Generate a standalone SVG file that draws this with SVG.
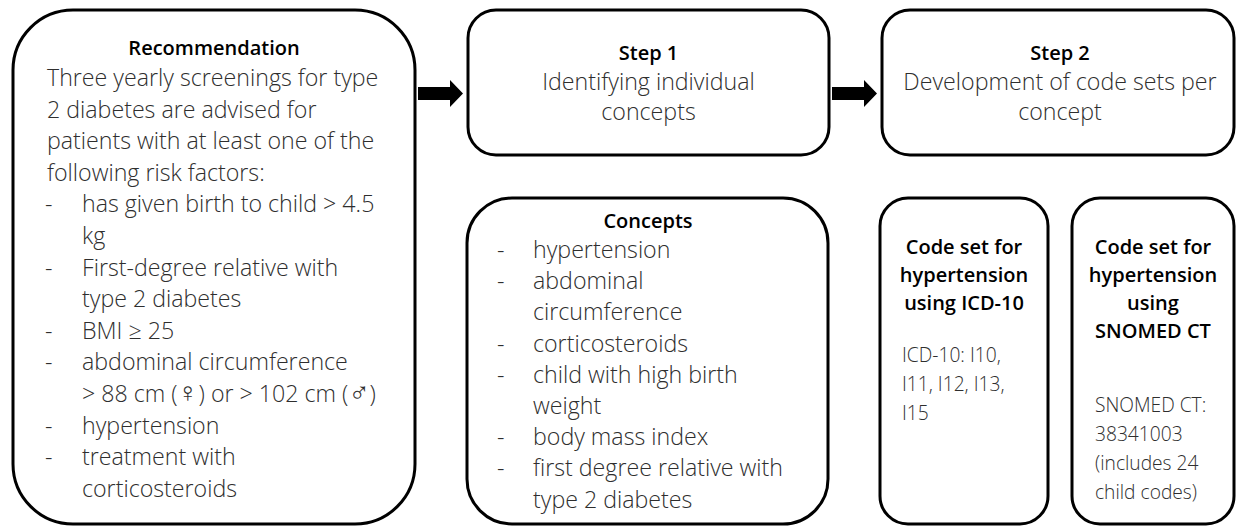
<svg xmlns="http://www.w3.org/2000/svg" width="1236" height="526" viewBox="0 0 1236 526">
<style>
.box{fill:#fff;stroke:#000;stroke-width:3}
.b{font-family:"Open Sans","Liberation Sans",sans-serif;font-weight:600;fill:#000}
.t{font-family:"Open Sans","Liberation Sans",sans-serif;font-weight:300;fill:#2e2e2e}
.big{font-size:23.2px}
.mid{font-size:20px}
.sm{font-size:19.2px}
.c{text-anchor:middle}
.sym{font-family:"DejaVu Sans",sans-serif;font-size:28px;font-weight:200}
</style>
<rect width="1236" height="526" fill="#fff"/>
<g id="connectors">
<path d="M418 87 H450 V80 L463 93.5 L450 107 V100 H418 Z" fill="#000"/>
<path d="M832 87 H864 V80 L877 93.5 L864 107 V100 H832 Z" fill="#000"/>
</g>
<g id="recommendation">
<rect class="box" x="13" y="10" width="402" height="514" rx="60" ry="60"/>
<text class="b mid c" x="214" y="55">Recommendation</text>
<text class="t big" x="47" y="86">Three yearly screenings for type</text>
<text class="t big" x="47" y="117.6">2 diabetes are advised for</text>
<text class="t big" x="47" y="149.2">patients with at least one of the</text>
<text class="t big" x="47" y="180.8">following risk factors:</text>
<text class="t big" x="45" y="212.4">-</text><text class="t big" x="82" y="212.4">has given birth to child &gt; 4.5</text>
<text class="t big" x="82" y="244">kg</text>
<text class="t big" x="45" y="275.6">-</text><text class="t big" x="82" y="275.6">First-degree relative with</text>
<text class="t big" x="82" y="307.2">type 2 diabetes</text>
<text class="t big" x="45" y="338.8">-</text><text class="t big" x="82" y="338.8">BMI ≥ 25</text>
<text class="t big" x="45" y="370.4">-</text><text class="t big" x="82" y="370.4">abdominal circumference</text>
<text class="t big" x="82" y="402">&gt; 88 cm (<tspan class="sym">♀</tspan>) or &gt; 102 cm (<tspan class="sym">♂</tspan>)</text>
<text class="t big" x="45" y="433.6">-</text><text class="t big" x="82" y="433.6">hypertension</text>
<text class="t big" x="45" y="465.2">-</text><text class="t big" x="82" y="465.2">treatment with</text>
<text class="t big" x="82" y="496.8">corticosteroids</text>
</g>
<g id="step1">
<rect class="box" x="468" y="10" width="361" height="145" rx="28" ry="28"/>
<text class="b mid c" x="648.5" y="60">Step 1</text>
<text class="t big c" x="648.5" y="90">Identifying individual</text>
<text class="t big c" x="648.5" y="120">concepts</text>
</g>
<g id="step2">
<rect class="box" x="882" y="10" width="352" height="145" rx="28" ry="28"/>
<text class="b mid c" x="1060" y="60">Step 2</text>
<text class="t big c" x="1060" y="90">Development of code sets per</text>
<text class="t big c" x="1060" y="120">concept</text>
</g>
<g id="concepts">
<rect class="box" x="467" y="198" width="361" height="326" rx="45" ry="45"/>
<text class="b mid c" x="648" y="228">Concepts</text>
<text class="t big" x="497" y="258">-</text><text class="t big" x="533" y="258">hypertension</text>
<text class="t big" x="497" y="289">-</text><text class="t big" x="533" y="289">abdominal</text>
<text class="t big" x="533" y="320">circumference</text>
<text class="t big" x="497" y="352">-</text><text class="t big" x="533" y="352">corticosteroids</text>
<text class="t big" x="497" y="383">-</text><text class="t big" x="533" y="383">child with high birth</text>
<text class="t big" x="533" y="414">weight</text>
<text class="t big" x="497" y="445">-</text><text class="t big" x="533" y="445">body mass index</text>
<text class="t big" x="497" y="476">-</text><text class="t big" x="533" y="476">first degree relative with</text>
<text class="t big" x="533" y="508">type 2 diabetes</text>
</g>
<g id="icd10">
<rect class="box" x="880" y="198" width="168" height="326" rx="28" ry="28"/>
<text class="b mid c" x="964" y="254">Code set for</text>
<text class="b mid c" x="964" y="282">hypertension</text>
<text class="b mid c" x="964" y="310">using ICD-10</text>
<text class="t sm" x="902" y="362">ICD-10: I10,</text>
<text class="t sm" x="902" y="391">I11, I12, I13,</text>
<text class="t sm" x="902" y="420">I15</text>
</g>
<g id="snomed">
<rect class="box" x="1072" y="198" width="162" height="326" rx="28" ry="28"/>
<text class="b mid c" x="1153" y="254">Code set for</text>
<text class="b mid c" x="1153" y="282">hypertension</text>
<text class="b mid c" x="1153" y="310">using</text>
<text class="b mid c" x="1153" y="338">SNOMED CT</text>
<text class="t sm" x="1095" y="412">SNOMED CT:</text>
<text class="t sm" x="1095" y="441">38341003</text>
<text class="t sm" x="1095" y="470">(includes 24</text>
<text class="t sm" x="1095" y="499">child codes)</text>
</g>
</svg>
